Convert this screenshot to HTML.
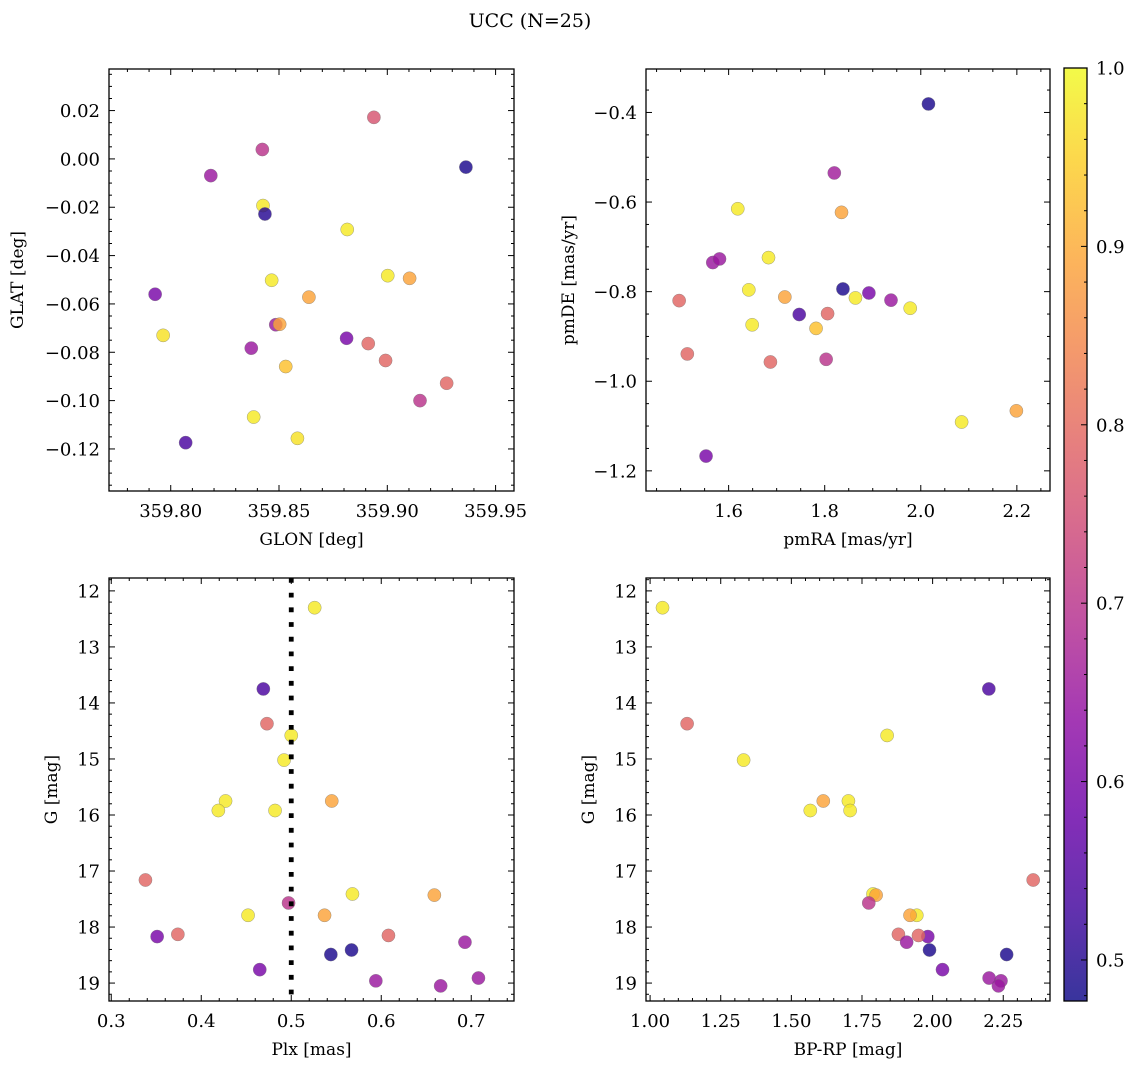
<!DOCTYPE html>
<html><head><meta charset="utf-8">
<style>
html,body{margin:0;padding:0;background:#fff;}
svg{display:block;font-family:"DejaVu Serif","Liberation Serif",serif;}
</style></head>
<body>
<svg id="fig" width="1136" height="1068" viewBox="0 0 1136 1068" xmlns="http://www.w3.org/2000/svg">
<text x="530" y="27" font-size="19" text-anchor="middle">UCC (N=25)</text>
</svg>
<script>
// ---- Data ----
const glon = [359.8938,359.8423,359.9363,359.8185,359.8426,359.8435,359.8815,359.8466,359.9002,359.9103,359.8638,359.7928,359.8485,359.8503,359.7965,359.8372,359.8812,359.8912,359.8992,359.8531,359.9274,359.9151,359.8383,359.8585,359.8069];
const glat = [0.0172,0.0039,-0.0034,-0.0069,-0.0193,-0.0228,-0.0292,-0.0502,-0.0483,-0.0494,-0.0572,-0.0560,-0.0686,-0.0684,-0.0730,-0.0783,-0.0742,-0.0764,-0.0834,-0.0859,-0.0928,-0.1000,-0.1068,-0.1156,-0.1174];
const cPos = [0.76,0.70,0.49,0.65,0.98,0.50,0.98,0.98,0.98,0.89,0.89,0.60,0.65,0.89,0.97,0.65,0.60,0.79,0.79,0.93,0.79,0.70,0.98,0.97,0.54];

const pmra = [2.016,1.820,1.619,1.835,1.567,1.581,1.683,1.642,1.497,1.717,1.838,1.864,1.892,1.938,1.978,1.747,1.806,1.649,1.782,1.514,1.687,1.803,2.085,2.199,1.553];
const pmde = [-0.381,-0.535,-0.615,-0.623,-0.735,-0.727,-0.724,-0.796,-0.820,-0.812,-0.794,-0.814,-0.803,-0.819,-0.837,-0.851,-0.849,-0.874,-0.882,-0.939,-0.957,-0.951,-1.091,-1.066,-1.167];
const cPm = [0.49,0.66,0.98,0.89,0.65,0.65,0.98,0.98,0.79,0.89,0.49,0.98,0.60,0.65,0.98,0.54,0.79,0.98,0.93,0.79,0.79,0.70,0.98,0.89,0.60];

const plx = [0.526,0.469,0.473,0.500,0.492,0.427,0.419,0.482,0.545,0.338,0.568,0.659,0.497,0.452,0.537,0.374,0.351,0.608,0.693,0.567,0.544,0.465,0.594,0.666,0.708];
const gmag = [12.30,13.75,14.37,14.58,15.02,15.75,15.92,15.92,15.75,17.16,17.41,17.43,17.57,17.79,17.79,18.13,18.17,18.15,18.27,18.41,18.49,18.76,18.96,19.05,18.91];
const cPhot = [0.98,0.54,0.79,0.98,0.98,0.98,0.98,0.98,0.89,0.79,0.98,0.89,0.70,0.98,0.89,0.79,0.60,0.79,0.65,0.49,0.49,0.60,0.65,0.65,0.65];
const bprp = [1.044,2.199,1.131,1.839,1.331,1.702,1.567,1.708,1.613,2.356,1.789,1.80,1.774,1.944,1.92,1.879,1.983,1.95,1.908,1.989,2.262,2.035,2.242,2.233,2.20];
const plxLine = [0.5];

const ticksGlon = [359.80,359.85,359.90,359.95];
const ticksGlat = [0.02,0.00,-0.02,-0.04,-0.06,-0.08,-0.10,-0.12];
const ticksPmra = [1.6,1.8,2.0,2.2];
const ticksPmde = [-0.4,-0.6,-0.8,-1.0,-1.2];
const ticksPlx = [0.3,0.4,0.5,0.6,0.7];
const ticksG = [12,13,14,15,16,17,18,19];
const ticksBprp = [1.00,1.25,1.50,1.75,2.00,2.25];
const ticksCbar = [0.5,0.6,0.7,0.8,0.9,1.0];

const NS = "http://www.w3.org/2000/svg";
const svg = document.getElementById('fig');
const VMIN = 0.477, VMAX = 1.0;
const plasma = ["#0d0887","#41049d","#6a00a8","#8f0da4","#b12a90","#cc4778","#e16462","#f2844b","#fca636","#fcce25","#f0f921"];
function hex(h){return [parseInt(h.substr(1,2),16),parseInt(h.substr(3,2),16),parseInt(h.substr(5,2),16)];}
function cmap(v){
  let t=(v-VMIN)/(VMAX-VMIN); t=Math.max(0,Math.min(1,t));
  const f=t*10, i=Math.min(9,Math.floor(f)), r=f-i;
  const a=hex(plasma[i]), b=hex(plasma[i+1]);
  return "rgb("+a.map((x,k)=>Math.round(x+(b[k]-x)*r)).join(",")+")";
}
function mk(tag, attrs, parent){
  const e=document.createElementNS(NS,tag);
  for(const k in attrs) e.setAttribute(k,attrs[k]);
  (parent||svg).appendChild(e); return e;
}
function fmt(v,d){ const s=Math.abs(v).toFixed(d); return (v<-1e-9?"\u2212":"")+s; }

function panel(name, box, xr, yr, xTicks, xMinor, xDec, yTicks, yMinor, yDec, xlabel, ylabel, ylabX, xs, ys, cs){
  const [L,T,R,B]=box;
  const sx=v=>L+(v-xr[0])/(xr[1]-xr[0])*(R-L);
  const sy=v=>B-(v-yr[0])/(yr[1]-yr[0])*(B-T);
  const g=mk('g',{});
  
  
  for(let i=0;i<xs.length;i++){
    const c=mk('circle',{cx:sx(xs[i]),cy:sy(ys[i]),r:6.6,fill:cmap(cs[i]),'fill-opacity':0.82,stroke:'#777','stroke-width':0.5,'stroke-opacity':0.7},g);
    
    
  }
  const fr=mk('rect',{x:L,y:T,width:R-L,height:B-T,fill:'none',stroke:'#000','stroke-width':1.3},g);
  
  
  let start=Math.ceil(xr[0]/xMinor-1e-6);
  for(let k=start; k*xMinor<=xr[1]+1e-9; k++){
    const v=k*xMinor; const x=sx(v);
    const major=xTicks.some(t=>Math.abs(t-v)<xMinor/10);
    const len=major?6:3;
    mk('line',{x1:x,y1:B,x2:x,y2:B-len,stroke:'#000','stroke-width':1},g);
    mk('line',{x1:x,y1:T,x2:x,y2:T+len,stroke:'#000','stroke-width':1},g);
  }
  const y0=Math.min(yr[0],yr[1]), y1=Math.max(yr[0],yr[1]);
  start=Math.ceil(y0/yMinor-1e-6);
  for(let k=start; k*yMinor<=y1+1e-9; k++){
    const v=k*yMinor; const y=sy(v);
    const major=yTicks.some(t=>Math.abs(t-v)<yMinor/10);
    const len=major?6:3;
    mk('line',{x1:L,y1:y,x2:L+len,y2:y,stroke:'#000','stroke-width':1},g);
    mk('line',{x1:R,y1:y,x2:R-len,y2:y,stroke:'#000','stroke-width':1},g);
  }
  xTicks.forEach(v=>{
    const t=mk('text',{x:sx(v),y:B+26,'font-size':18,'text-anchor':'middle'},g);
    t.textContent=fmt(v,xDec);
    
    
  });
  yTicks.forEach(v=>{
    const t=mk('text',{x:L-9,y:sy(v)+6.5,'font-size':18,'text-anchor':'end'},g);
    t.textContent=fmt(v,yDec);
    
    
  });
  const xl=mk('text',{x:(L+R)/2,y:B+54,'font-size':17,'text-anchor':'middle'},g);
  xl.textContent=xlabel;
  
  
  const yl=mk('text',{x:ylabX,y:(T+B)/2,'font-size':17,'text-anchor':'middle',transform:`rotate(-90 ${ylabX} ${(T+B)/2})`},g);
  yl.textContent=ylabel;
  
  
  return {sx,sy,g};
}

panel('position',[109,69,514,491],[359.7715,359.9585],[-0.1374,0.0372],ticksGlon,0.01,2,ticksGlat,0.005,2,'GLON [deg]','GLAT [deg]',23,glon,glat,cPos);
panel('proper-motion',[646,69,1050,491],[1.428,2.269],[-1.245,-0.303],ticksPmra,0.05,1,ticksPmde,0.05,1,'pmRA [mas/yr]','pmDE [mas/yr]',574,pmra,pmde,cPm);
const pl=panel('parallax',[109,578,514,1001],[0.2975,0.7475],[19.32,11.77],ticksPlx,0.02,1,ticksG,0.2,0,'Plx [mas]','G [mag]',57,plx,gmag,cPhot);
panel('cmd',[646,578,1050,1001],[0.9855,2.4155],[19.32,11.77],ticksBprp,0.05,2,ticksG,0.2,0,'BP-RP [mag]','G [mag]',594,bprp,gmag,cPhot);

plxLine.forEach(v=>{
  const ln=mk('line',{x1:pl.sx(v),y1:578,x2:pl.sx(v),y2:1001,stroke:'#000','stroke-width':4.8,'stroke-dasharray':'4.8 9.9'});
  
  
});

const CB={L:1064,R:1087,T:68,B:1001};
const cg=mk('g',{});


const defs=mk('defs',{},cg);
const grad=mk('linearGradient',{id:'cbg',x1:0,y1:1,x2:0,y2:0},defs);
plasma.forEach((c,i)=>mk('stop',{offset:(i/10),'stop-color':c,'stop-opacity':0.82},grad));
mk('rect',{x:CB.L,y:CB.T,width:CB.R-CB.L,height:CB.B-CB.T,fill:'url(#cbg)'},cg);
mk('rect',{x:CB.L,y:CB.T,width:CB.R-CB.L,height:CB.B-CB.T,fill:'none',stroke:'#000','stroke-width':1.3},cg);
const cy=v=>CB.B-(v-VMIN)/(VMAX-VMIN)*(CB.B-CB.T);
for(let k=Math.ceil(VMIN/0.02); k*0.02<=VMAX+1e-9; k++){
  const v=k*0.02, y=cy(v);
  const major=ticksCbar.some(t=>Math.abs(t-v)<0.002);
  mk('line',{x1:CB.R,y1:y,x2:CB.R-(major?6:3),y2:y,stroke:'#000','stroke-width':1},cg);
}
ticksCbar.forEach(v=>{
  const t=mk('text',{x:CB.R+9,y:cy(v)+6.5,'font-size':18},cg);
  t.textContent=v.toFixed(1);
  
  
});
</script>
</body></html>
